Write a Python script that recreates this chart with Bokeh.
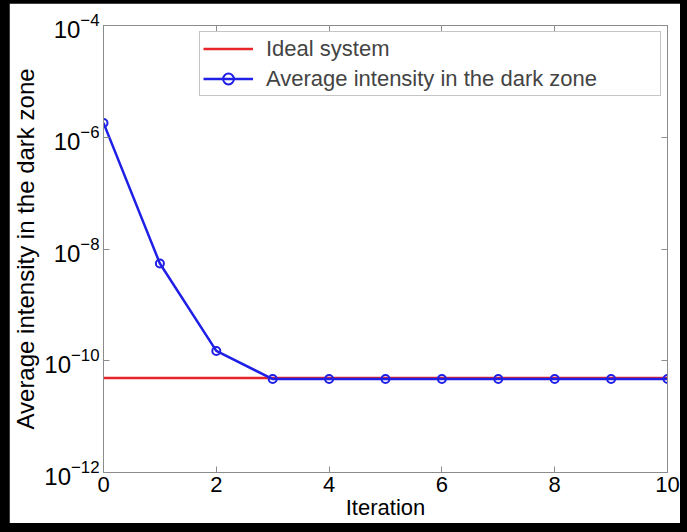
from bokeh.plotting import figure
from bokeh.models import FixedTicker, LinearAxis, LogAxis, Legend, LegendItem, Range1d
from bokeh.layouts import column
from bokeh.embed import file_html
from bokeh.resources import INLINE

# Data
iterations = [0, 1, 2, 3, 4, 5, 6, 7, 8, 9, 10]
avg_intensity = [1.8e-6, 5.5e-9, 1.5e-10, 4.7e-11, 4.7e-11, 4.7e-11,
                 4.7e-11, 4.7e-11, 4.7e-11, 4.7e-11, 4.7e-11]
ideal_x = [0, 10]
ideal_y = [4.9e-11, 4.9e-11]
x_ticks = [0, 2, 4, 6, 8, 10]
y_ticks = [1e-12, 1e-10, 1e-8, 1e-6, 1e-4]

FONT = "Liberation Sans"
GRAY = "#8c8c8c"

p = figure(width=671, height=520, y_axis_type="log",
           x_range=Range1d(0, 10), y_range=Range1d(1e-12, 1e-4),
           output_backend="svg", toolbar_location=None,
           min_border_left=91, min_border_right=13,
           min_border_top=22, min_border_bottom=51)
p.margin = (3, 7, 9, 9)
p.background_fill_color = "white"
p.border_fill_color = "white"
p.outline_line_color = GRAY
p.outline_line_width = 1
p.grid.visible = False

r_ideal = p.line(ideal_x, ideal_y, line_color="#e8262a", line_width=2.5)
r_avg = p.line(iterations, avg_intensity, line_color="#1f1fe6", line_width=2.5)
r_pts = p.scatter(iterations, avg_intensity, marker="circle", size=8,
                  fill_color=None, line_color="#1f1fe6", line_width=2)

xa = p.xaxis[0]
xa.ticker = FixedTicker(ticks=x_ticks)
xa.axis_label = "Iteration"
ya = p.yaxis[0]
ya.ticker = FixedTicker(ticks=y_ticks)
ya.axis_label = "Average intensity in the dark zone"

for ax in (xa, ya):
    ax.axis_line_color = GRAY
    ax.major_tick_line_color = GRAY
    ax.major_tick_in = 6
    ax.major_tick_out = 0
    ax.minor_tick_line_color = None
    ax.major_label_text_font = FONT
    ax.major_label_text_color = "black"
    ax.axis_label_text_font = FONT
    ax.axis_label_text_font_style = "normal"
    ax.axis_label_text_color = "black"
xa.major_label_text_font_size = "22px"
xa.axis_label_text_font_size = "22px"
ya.major_label_text_font_size = "24px"
ya.axis_label_text_font_size = "24px"
xa.major_label_standoff = 4
xa.axis_label_standoff = 0
ya.major_label_standoff = 4
ya.axis_label_standoff = 2

top = LinearAxis(ticker=FixedTicker(ticks=x_ticks))
right = LogAxis(ticker=FixedTicker(ticks=y_ticks))
for ax in (top, right):
    ax.axis_line_color = GRAY
    ax.major_tick_line_color = GRAY
    ax.major_tick_in = 6
    ax.major_tick_out = 0
    ax.minor_tick_line_color = None
    ax.major_label_text_font_size = "1px"
    ax.major_label_text_color = None
    ax.major_label_standoff = 0
p.add_layout(top, "above")
p.add_layout(right, "right")

legend = Legend(items=[
    LegendItem(label="Ideal system", renderers=[r_ideal]),
    LegendItem(label="Average intensity in the dark zone", renderers=[r_avg, r_pts]),
], location="top_right")
legend.margin = 6
legend.padding = 3
legend.spacing = 3
legend.glyph_width = 50
legend.glyph_height = 27
legend.label_height = 27
legend.label_width = 391
legend.label_standoff = 13
legend.label_text_font = FONT
legend.label_text_font_size = "22px"
legend.border_line_color = GRAY
legend.border_line_width = 1
legend.background_fill_alpha = 1
p.add_layout(legend)

page = column(p, styles={"background-color": "black"})
open("out.html", "w").write(file_html(page, INLINE))
